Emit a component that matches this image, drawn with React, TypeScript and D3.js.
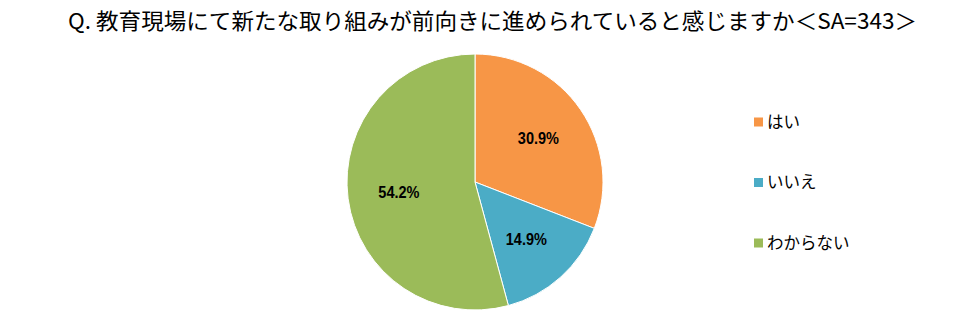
import React from "react";
import * as d3 from "d3";

const title = "Q. 教育現場にて新たな取り組みが前向きに進められていると感じますか＜SA=343＞";
const categories = ["はい", "いいえ", "わからない"];
const values = [30.9, 14.9, 54.2];
const colors = ["#F79646", "#4BACC6", "#9BBB59"];

export default function App() {
  const W = 978, H = 321;
  const cx = 475, cy = 182, r = 128;
  const pie = d3.pie<number>().sort(null).value((d) => d)(values);
  const arc = d3.arc<d3.PieArcDatum<number>>().innerRadius(0).outerRadius(r);
  const labelArc = d3.arc<d3.PieArcDatum<number>>().innerRadius(r * 0.6).outerRadius(r * 0.6);
  const legendY = d3.scalePoint<string>().domain(categories).range([122, 243]);
  const font = "'Noto Sans CJK JP', 'Noto Sans', sans-serif";
  return (
    <svg width={W} height={H} style={{ position: "absolute", left: 0, top: 0, background: "#fff" }}>
      <text x={68} y={29} textLength={849} lengthAdjust="spacingAndGlyphs" fontFamily={font} fontSize={22} fill="#000">{title}</text>
      <g transform={`translate(${cx},${cy})`}>
        {pie.map((p, i) => (
          <path key={i} d={arc(p) || ""} fill={colors[i]} stroke="#fff" strokeWidth={1} />
        ))}
        {pie.map((p, i) => {
          const [x, y] = labelArc.centroid(p);
          return (
            <g key={i} transform={`translate(${x},${y}) scale(1,1.15)`}>
              <text x={0} y={0} dy="0.35em" textAnchor="middle" fontFamily="'Liberation Sans', Arial, sans-serif" fontWeight="bold" fontSize={14.5} fill="#000">
                {values[i].toFixed(1)}%
              </text>
            </g>
          );
        })}
      </g>
      {categories.map((c, i) => (
        <g key={c} transform={`translate(754,${legendY(c)})`}>
          <rect x={0} y={-4.5} width={9} height={9} fill={colors[i]} />
          <text x={13} y={0} dy="0.35em" fontFamily={font} fontSize={16.5} fill="#000">{c}</text>
        </g>
      ))}
    </svg>
  );
}
